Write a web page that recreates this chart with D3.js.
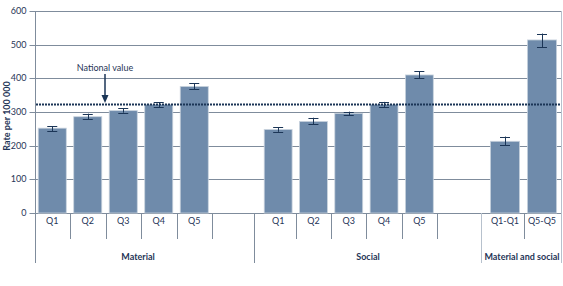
<!DOCTYPE html>
<html><head><meta charset="utf-8">
<script src="https://cdn.jsdelivr.net/npm/d3@7"></script>
<style>
body{margin:0;background:#fff;}
text{font-family:Lato,"Open Sans",sans-serif;fill:#1f3557;}
</style></head>
<body><svg id="c" width="563" height="286"></svg>
<script>
// ---- data ----
const groupNames = ["Material", "Social", "Material and social"];
const materialCats = ["Q1", "Q2", "Q3", "Q4", "Q5"];
const materialRate = [252, 286, 304, 322, 376];
const materialLow  = [243, 279, 298, 315, 367];
const materialHigh = [257, 295, 311, 329, 386];
const socialCats = ["Q1", "Q2", "Q3", "Q4", "Q5"];
const socialRate = [248, 272, 296, 322, 410];
const socialLow  = [241, 263, 290, 315, 401];
const socialHigh = [255, 283, 301, 330, 421];
const bothCats = ["Q1-Q1", "Q5-Q5"];
const bothRate = [213, 514];
const bothLow  = [202, 493];
const bothHigh = [227, 533];
const nationalValue = 322;
const yTicks = [0, 100, 200, 300, 400, 500, 600];
const yTitle = "Rate per 100 000";
const annotation = "National value";

// ---- layout ----
const svg = d3.select("#c");
const topY = 11, base = 213, left = 35, right = 562, axisBottom = 263;
const y = d3.scaleLinear().domain([0, 600]).range([base, topY]);
const groupLayout = [
  {cats: materialCats, rate: materialRate, lo: materialLow, hi: materialHigh, range: [34.5, 212], div: 255, labelX: 138},
  {cats: socialCats, rate: socialRate, lo: socialLow, hi: socialHigh, range: [260.5, 437], div: 482, labelX: 368},
  {cats: bothCats, rate: bothRate, lo: bothLow, hi: bothHigh, range: [486.5, 560.5], div: 562, labelX: 522}
];
const lineCol = "#7f8c9c";
const lightCol = "#b7c1cd";
const barCol = "#6f8bab";
const navy = "#1b3556";
const font = "Lato,'Open Sans',sans-serif";

// gridlines
svg.append("g").selectAll("line").data(yTicks.filter(d => d > 0)).join("line")
  .attr("x1", left).attr("x2", right)
  .attr("y1", d => Math.round(y(d)) + 0.5).attr("y2", d => Math.round(y(d)) + 0.5)
  .attr("stroke", lineCol).attr("stroke-width", 1);

// y axis
const yAxis = svg.append("g").attr("transform", `translate(${left + 0.5},0)`)
  .call(d3.axisLeft(y).tickValues(yTicks).tickSize(6).tickPadding(3).tickFormat(d3.format("d")));
yAxis.select(".domain").remove();
yAxis.selectAll(".tick").attr("transform", d => `translate(0,${Math.round(y(d)) + 0.5})`);
yAxis.selectAll(".tick line").attr("stroke", lineCol);
yAxis.selectAll(".tick text").attr("font-size", 9).attr("fill", "#1f3557").style("font-family", font);

svg.append("text").attr("transform", `translate(10,${(topY + base) / 2 + 4}) rotate(-90)`)
  .attr("text-anchor", "middle").attr("font-size", 9).attr("font-weight", "bold").text(yTitle);

// left axis line & right edge
svg.append("line").attr("x1", left + 0.5).attr("x2", left + 0.5).attr("y1", topY).attr("y2", axisBottom)
  .attr("stroke", lineCol);

// baseline
svg.append("line").attr("x1", left).attr("x2", right).attr("y1", base + 0.5).attr("y2", base + 0.5)
  .attr("stroke", lineCol);

const gBars = svg.append("g");
groupLayout.forEach((g, gi) => {
  const x = d3.scaleBand().domain(g.cats).range(g.range).paddingInner(0.21).paddingOuter(0.105);
  const rows = g.cats.map((c, i) => ({c, v: g.rate[i], lo: g.lo[i], hi: g.hi[i]}));
  // bars
  gBars.selectAll(null).data(rows).join("rect")
    .attr("x", d => x(d.c)).attr("width", x.bandwidth())
    .attr("y", d => y(d.v)).attr("height", d => y(0) - y(d.v))
    .attr("fill", barCol).attr("stroke", "#c9d3de").attr("stroke-width", 0.8);
  // error bars
  const cx = d => x(d.c) + x.bandwidth() / 2;
  gBars.selectAll(null).data(rows).join("line")
    .attr("x1", d => Math.round(cx(d)) + 0.5).attr("x2", d => Math.round(cx(d)) + 0.5)
    .attr("y1", d => y(d.hi)).attr("y2", d => y(d.lo)).attr("stroke", navy).attr("stroke-width", 1);
  ["hi", "lo"].forEach(k => {
    gBars.selectAll(null).data(rows).join("line")
      .attr("x1", d => cx(d) - 5).attr("x2", d => cx(d) + 5)
      .attr("y1", d => Math.round(y(d[k])) + 0.5).attr("y2", d => Math.round(y(d[k])) + 0.5)
      .attr("stroke", navy).attr("stroke-width", 1);
  });
  // category ticks (band boundaries)
  const step = x.step();
  const bnd = d3.range(1, g.cats.length + 1).map(i => g.range[0] + i * step);
  svg.append("g").selectAll("line").data(bnd).join("line")
    .attr("x1", d => Math.round(d) + 0.5).attr("x2", d => Math.round(d) + 0.5)
    .attr("y1", base).attr("y2", 239).attr("stroke", lineCol);
  // category labels
  svg.append("g").selectAll("text").data(g.cats).join("text")
    .attr("x", c => x(c) + x.bandwidth() / 2).attr("y", 224)
    .attr("text-anchor", "middle").attr("font-size", 9).text(c => c);
  // group dividers
  svg.append("line").attr("x1", g.div - 0.5).attr("x2", g.div - 0.5)
    .attr("y1", gi === 2 ? topY : base).attr("y2", axisBottom).attr("stroke", gi === 0 ? lineCol : lightCol);
  // group label
  svg.append("text").attr("x", g.labelX).attr("y", 260).attr("text-anchor", "middle")
    .attr("font-size", 9).attr("font-weight", "bold").text(groupNames[gi]);
});

// national value line
svg.append("line").attr("x1", left + 1).attr("x2", right - 1)
  .attr("y1", y(nationalValue)).attr("y2", y(nationalValue))
  .attr("stroke", navy).attr("stroke-width", 2).attr("stroke-dasharray", "2,1");

// annotation
const ax = 105;
svg.append("text").attr("x", ax).attr("y", 71).attr("text-anchor", "middle").attr("font-size", 9).text(annotation);
svg.append("line").attr("x1", ax).attr("x2", ax).attr("y1", 74).attr("y2", 97).attr("stroke", navy).attr("stroke-width", 1.5);
svg.append("path").attr("d", `M${ax - 3.5},95 L${ax + 3.5},95 L${ax},${y(nationalValue) - 1.5} Z`).attr("fill", navy);
</script></body></html>
